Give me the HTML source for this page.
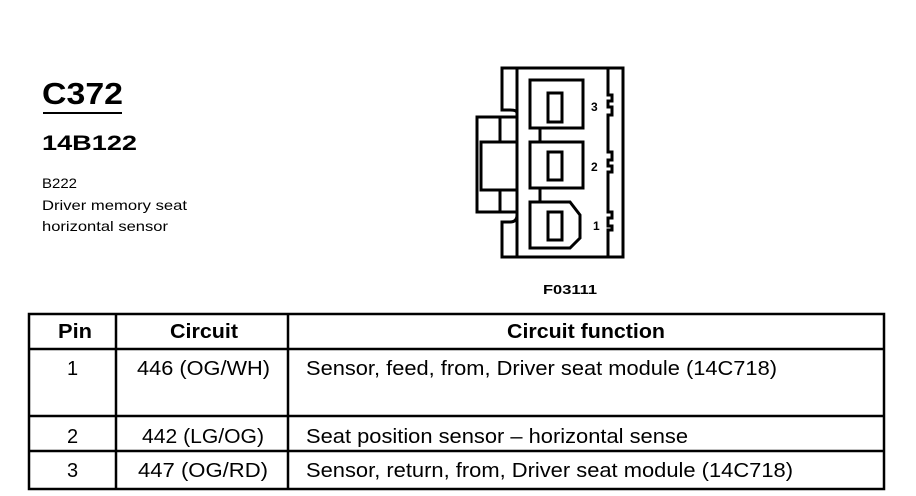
<!DOCTYPE html>
<html><head><style>
body{margin:0;background:#fff;width:916px;height:496px;overflow:hidden;position:relative}
</style></head><body>
<svg style="position:absolute;left:0;top:0" width="916" height="496" font-family="Liberation Sans,Arial,sans-serif">
<text x="42" y="104" font-size="31" font-weight="bold" textLength="81" lengthAdjust="spacingAndGlyphs">C372</text>
<rect x="43" y="112" width="79" height="2" fill="#000"/>
<text x="42" y="150" font-size="21" font-weight="bold" textLength="95" lengthAdjust="spacingAndGlyphs">14B122</text>
<g font-size="14">
<text x="42" y="188" textLength="35" lengthAdjust="spacingAndGlyphs">B222</text>
<text x="42" y="210" textLength="145" lengthAdjust="spacingAndGlyphs">Driver memory seat</text>
<text x="42" y="231" textLength="126" lengthAdjust="spacingAndGlyphs">horizontal sensor</text>
</g>
<g fill="none" stroke="#000" stroke-width="3">
<path d="M502,68 H623 V257 H502 V222 H510 Q517,222 517,215 V212 H477 V117 H517 V113 Q517,110 510,110 H502 Z"/>
<path d="M517,68 V257"/>
<rect x="481" y="142" width="36" height="48"/>
<path d="M500,117 V142 M500,190 V212"/>
<path d="M608,68 V95 h4 v6 h-4 v6 h4 v8 h-4 V152 h4 v8 h-4 v6 h4 v6 h-4 V212 h4 v6 h-4 v8 h4 v4 h-4 V257"/>
<rect x="530" y="80" width="53" height="48"/>
<rect x="530" y="142" width="53" height="46"/>
<path d="M530,202 H570 L580,215 V238 L570,248 H530 Z"/>
<path d="M540,128 V142 M540,188 V202"/>
<rect x="548" y="93" width="14" height="29"/>
<rect x="548" y="152" width="14" height="28"/>
<rect x="548" y="212" width="14" height="28"/>
</g>
<g font-size="12" font-weight="bold">
<text x="591" y="111">3</text><text x="591" y="171">2</text><text x="593" y="230">1</text>
<text x="543" y="294" font-size="13" textLength="54" lengthAdjust="spacingAndGlyphs">F03111</text>
</g>
<g stroke="#000" stroke-width="2.5" fill="none">
<rect x="29" y="314" width="855" height="175"/>
<path d="M29,349 H884 M29,416 H884 M29,451 H884 M116,314 V489 M288,314 V489"/>
</g>
<g font-size="20">
<g font-weight="bold">
<text x="58" y="338" textLength="34" lengthAdjust="spacingAndGlyphs">Pin</text>
<text x="170" y="338" textLength="68" lengthAdjust="spacingAndGlyphs">Circuit</text>
<text x="507" y="338" textLength="158" lengthAdjust="spacingAndGlyphs">Circuit function</text></g>
<text x="67" y="375">1</text><text x="137" y="375" textLength="133" lengthAdjust="spacingAndGlyphs">446 (OG/WH)</text><text x="306" y="375" textLength="471" lengthAdjust="spacingAndGlyphs">Sensor, feed, from, Driver seat module (14C718)</text>
<text x="67" y="443">2</text><text x="142" y="443" textLength="122" lengthAdjust="spacingAndGlyphs">442 (LG/OG)</text><text x="306" y="443" textLength="382" lengthAdjust="spacingAndGlyphs">Seat position sensor – horizontal sense</text>
<text x="67" y="477">3</text><text x="138" y="477" textLength="130" lengthAdjust="spacingAndGlyphs">447 (OG/RD)</text><text x="306" y="477" textLength="487" lengthAdjust="spacingAndGlyphs">Sensor, return, from, Driver seat module (14C718)</text>
</g>
</svg>
</body></html>
